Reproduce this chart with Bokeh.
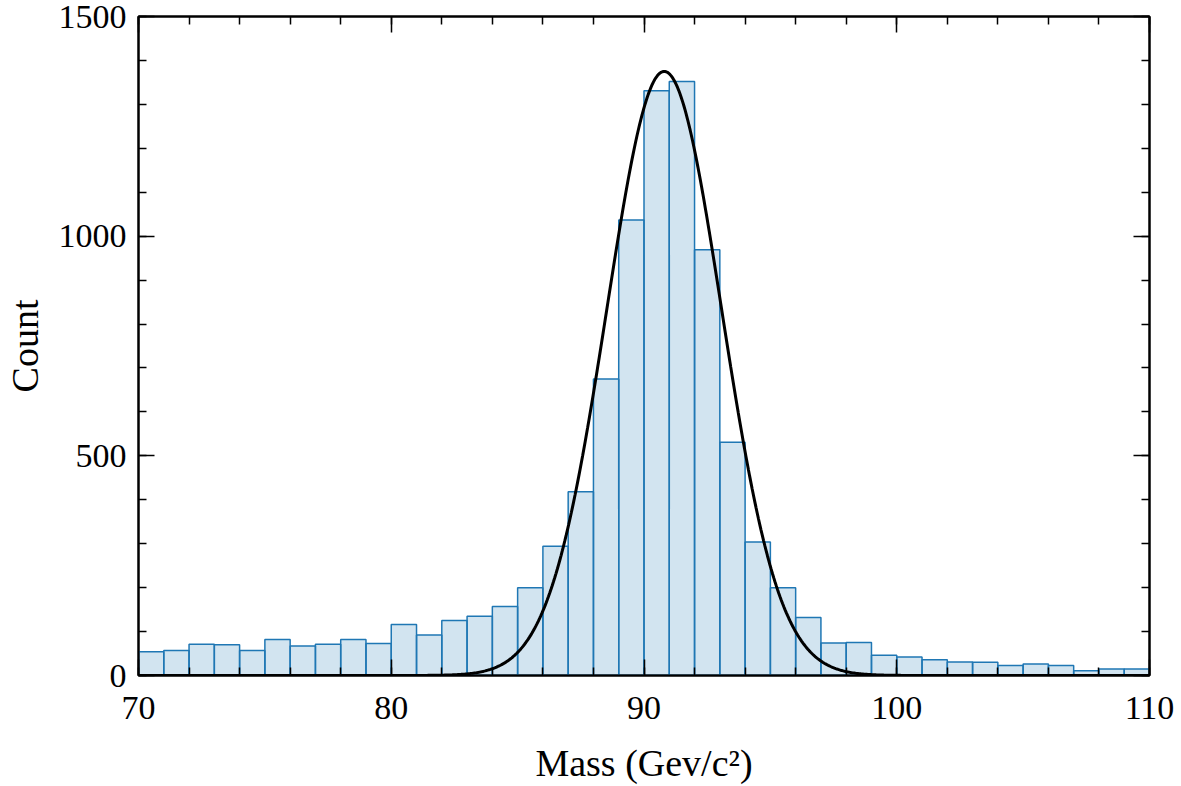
import numpy as np
from bokeh.plotting import figure
from bokeh.models import LinearAxis, FixedTicker, Range1d, ColumnDataSource, CustomLabelingPolicy
from bokeh.embed import file_html
from bokeh.resources import INLINE

# Histogram data (bin width 1 GeV/c^2, 70..110)
bin_edges = list(range(70, 111))
counts = [54, 57, 71, 70, 57, 82, 67, 71, 82, 73,
          116, 92, 125, 135, 157, 200, 294, 418, 675, 1037,
          1331, 1352, 969, 531, 304, 200, 132, 74, 75, 46,
          42, 36, 31, 30, 23, 26, 23, 11, 15, 15]

# Fitted Gaussian parameters
fit_amp = 1375.0
fit_mu = 90.8
fit_sigma = 2.27

x_ticks = [70, 80, 90, 100, 110]
x_minor = list(range(70, 111, 2))
y_ticks = [0, 500, 1000, 1500]
y_minor = list(range(0, 1501, 100))

FONT = "Liberation Serif"
TICK_FS = "34px"
LABEL_FS = "38px"

p = figure(width=1181, height=786, output_backend="svg", toolbar_location=None,
           x_range=Range1d(x_ticks[0], x_ticks[-1]), y_range=Range1d(y_ticks[0], y_ticks[-1]),
           x_axis_location=None, y_axis_location=None,
           min_border_left=134, min_border_right=32, min_border_top=16, min_border_bottom=109)
p.xgrid.visible = False
p.ygrid.visible = False
p.outline_line_color = "black"
p.outline_line_width = 2
p.background_fill_color = "white"
p.border_fill_color = "white"

src = ColumnDataSource(dict(left=bin_edges[:-1], right=bin_edges[1:], top=counts,
                            bottom=[0] * len(counts)))
p.quad(left="left", right="right", top="top", bottom="bottom", source=src,
       fill_color="#1f77b4", fill_alpha=0.2, line_color="#1f77b4", line_width=1.5)

xs = np.linspace(70, 110, 800)
ys = fit_amp * np.exp(-0.5 * ((xs - fit_mu) / fit_sigma) ** 2)
p.line(xs, ys, line_color="black", line_width=3)


def style(ax, labels=True):
    ax.axis_line_color = "black"
    ax.axis_line_width = 2
    ax.major_tick_line_color = "black"
    ax.minor_tick_line_color = "black"
    ax.major_tick_line_width = 1.5
    ax.minor_tick_line_width = 1.5
    ax.major_tick_in = 16
    ax.major_tick_out = 0
    ax.minor_tick_in = 8
    ax.minor_tick_out = 0
    ax.major_label_text_font = FONT
    ax.major_label_text_color = "black"
    ax.axis_label_text_font = FONT
    ax.axis_label_text_font_style = "normal"
    ax.axis_label_text_font_size = LABEL_FS
    ax.axis_label_text_color = "black"
    if labels:
        ax.major_label_text_font_size = TICK_FS
    else:
        ax.major_label_text_font_size = "1px"
        ax.major_label_standoff = 0
        ax.major_label_policy = CustomLabelingPolicy(code="return []")


xb = LinearAxis(ticker=FixedTicker(ticks=x_ticks, minor_ticks=x_minor), axis_label="Mass (Gev/c²)")
style(xb)
xb.major_label_standoff = 21
xb.axis_label_standoff = 20
p.add_layout(xb, "below")

xt = LinearAxis(ticker=FixedTicker(ticks=x_ticks, minor_ticks=x_minor))
style(xt, labels=False)
p.add_layout(xt, "above")

yl = LinearAxis(ticker=FixedTicker(ticks=y_ticks, minor_ticks=y_minor), axis_label="Count")
style(yl)
yl.major_label_standoff = 12
yl.axis_label_standoff = 10
p.add_layout(yl, "left")

yr = LinearAxis(ticker=FixedTicker(ticks=y_ticks, minor_ticks=y_minor))
style(yr, labels=False)
p.add_layout(yr, "right")

open("out.html", "w").write(file_html(p, INLINE))
